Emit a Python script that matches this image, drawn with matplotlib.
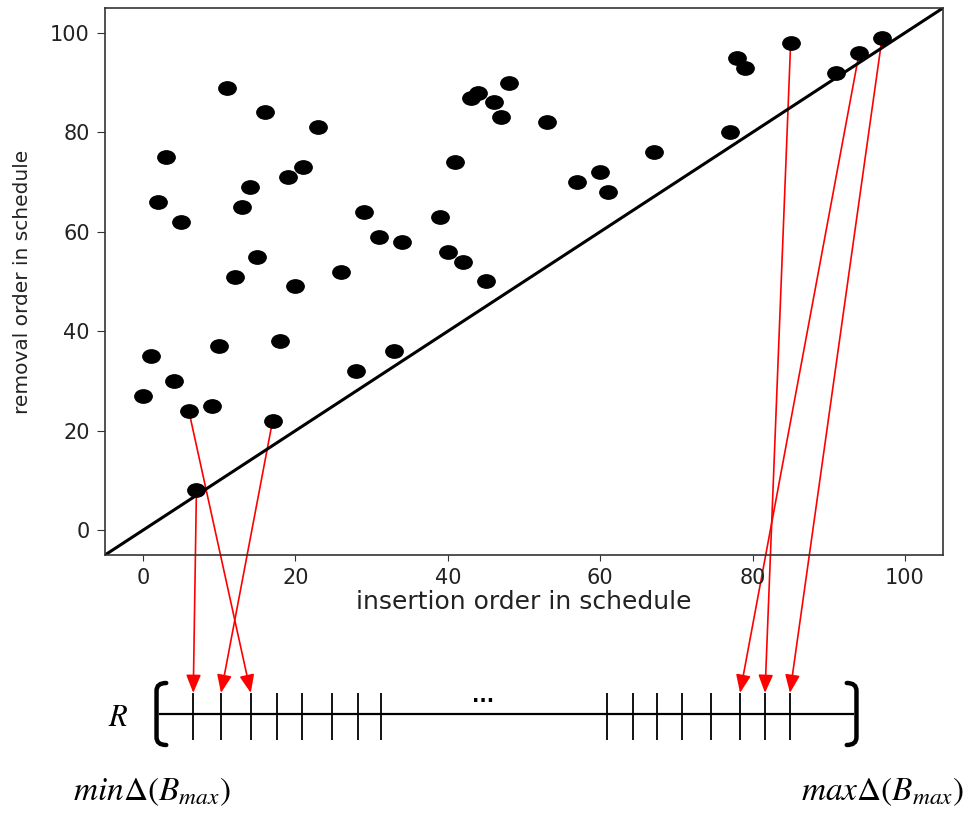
import matplotlib
matplotlib.use("Agg")
import matplotlib.pyplot as plt
from matplotlib.path import Path
from matplotlib.transforms import Affine2D
from matplotlib.patches import ConnectionPatch, PathPatch

plt.rcParams['mathtext.fontset'] = 'stix'

# insertion / removal order of each item in the schedule
insertion = [0, 1, 2, 3, 4, 5, 6, 7, 9, 10, 11, 12, 13, 14, 15, 16, 17, 18, 19, 20,
             21, 23, 26, 28, 29, 31, 33, 34, 39, 40, 41, 42, 43, 44, 45, 46, 47, 48, 53, 57,
             60, 61, 67, 77, 78, 79, 85, 91, 94, 97]
removal = [27, 35, 66, 75, 30, 62, 24, 8, 25, 37, 89, 51, 65, 69, 55, 84, 22, 38, 71, 49,
           73, 81, 52, 32, 64, 59, 36, 58, 63, 56, 74, 54, 87, 88, 50, 86, 83, 90, 82, 70,
           72, 68, 76, 80, 95, 93, 98, 92, 96, 99]

# positions of the marks on the range R (0 = min, 100 = max)
r_ticks = [4.8, 8.8, 13.1, 16.9, 20.5, 24.8, 28.6, 31.9,
           64.5, 68.3, 71.7, 75.3, 79.5, 83.7, 87.3, 90.9]

# which points map to which mark on R
arrow_from = [7, 17, 6, 94, 85, 97]   # insertion order of the source point
arrow_to = [0, 1, 2, 13, 14, 15]      # index into r_ticks

fig = plt.figure(figsize=(9.79, 8.14), dpi=100)
W, H = 979, 814

ax = fig.add_axes([105 / W, 1 - 555 / H, 838 / W, 547 / H])
ax.set_facecolor('none')
ax.plot([-5, 105], [-5, 105], color='black', lw=2.2, zorder=2)

ellipse = Path.unit_circle().transformed(Affine2D().scale(1.3, 1.0))
ax.plot(insertion, removal, linestyle='none', marker=ellipse, markersize=12.5,
        color='black', zorder=3)

ax.set_xlim(-5, 105)
ax.set_ylim(-5, 105)
ax.set_xticks([0, 20, 40, 60, 80, 100])
ax.set_yticks([0, 20, 40, 60, 80, 100])
ax.tick_params(axis='x', labelsize=15, length=4.5, pad=5, color='#333333')
ax.tick_params(axis='y', labelsize=15, length=6, pad=5, color='#333333')
for lab in ax.get_xticklabels() + ax.get_yticklabels():
    lab.set_color('#222222')
for sp in ax.spines.values():
    sp.set_linewidth(1.2)
    sp.set_color('#333333')
ax.set_xlabel('insertion order in schedule', fontsize=18, color='#222222', labelpad=1)
ax.set_ylabel('removal order in schedule', fontsize=14.5, color='#222222', labelpad=13)

# the range R drawn as a number line
axr = fig.add_axes([160 / W, 1 - 745 / H, 693 / W, 62 / H])
axr.set_facecolor('none')
axr.set_xlim(0, 100)
axr.set_ylim(-1, 1)
axr.axis('off')
axr.plot([0, 100], [0, 0], color='black', lw=1.6, clip_on=False)
axr.vlines(r_ticks, -0.84, 0.68, color='black', lw=1.3)

# brackets
def bracket(x0, w):
    verts = [(x0 + w, 1.0), (x0, 1.0), (x0, 0.75),
             (x0, -0.75), (x0, -1.0), (x0 + w, -1.0)]
    codes = [Path.MOVETO, Path.CURVE3, Path.CURVE3,
             Path.LINETO, Path.CURVE3, Path.CURVE3]
    return PathPatch(Path(verts, codes), fill=False, lw=3.2, color='black',
                     capstyle='round', clip_on=False)

axr.add_patch(bracket(-0.5, 1.4))
axr.add_patch(bracket(100.5, -1.4))

axr.text(46.6, 0.58, '...', fontsize=14, fontweight='bold', ha='center', va='center')
fig.text(118 / W, 1 - 717 / H, r'$R$', fontsize=22, ha='center', va='center')
fig.text(152 / W, 1 - 791 / H, r'$min\Delta(B_{max})$', fontsize=24,
         ha='center', va='center')
fig.text(883 / W, 1 - 791 / H, r'$max\Delta(B_{max})$', fontsize=24,
         ha='center', va='center')

# arrows from points to marks on R
for src, dst in zip(arrow_from, arrow_to):
    i = insertion.index(src)
    con = ConnectionPatch(xyA=(insertion[i], removal[i]), coordsA=ax.transData,
                          xyB=(r_ticks[dst], 0.68), coordsB=axr.transData,
                          arrowstyle='-|>,head_length=1.1,head_width=0.45',
                          mutation_scale=10, shrinkA=0, shrinkB=0,
                          color='red', lw=1.2, zorder=-1)
    fig.add_artist(con)

fig.savefig('out.png', dpi=100, facecolor='white')
